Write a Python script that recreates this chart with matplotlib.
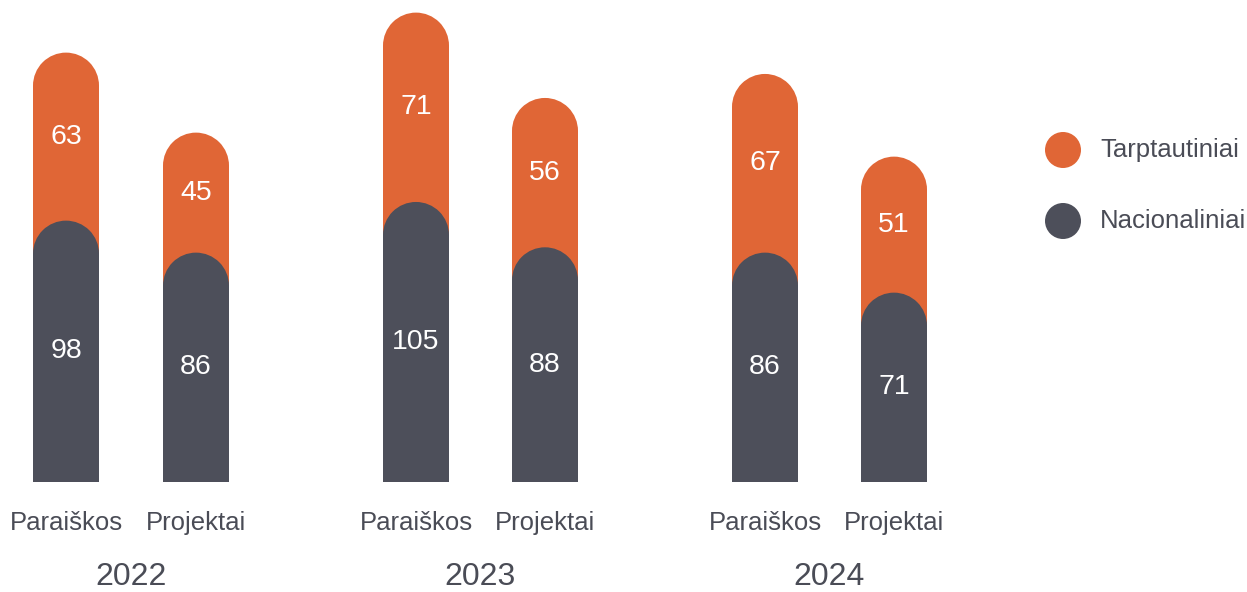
import matplotlib
matplotlib.use("Agg")
import matplotlib.pyplot as plt
from matplotlib.path import Path
from matplotlib.patches import PathPatch, Circle
import numpy as np

years = ["2022", "2023", "2024"]
categories = ["Paraiškos", "Projektai"]
nacionaliniai = [98, 86, 105, 88, 86, 71]
tarptautiniai = [63, 45, 71, 56, 67, 51]
series_names = ["Tarptautiniai", "Nacionaliniai"]

ORANGE = "#E06636"
DARK = "#4D4F5A"
TEXT = "#4A4C56"

plt.rcParams['font.family'] = ['Liberation Sans', 'DejaVu Sans']

W, H = 1247, 592
fig = plt.figure(figsize=(W / 100, H / 100), dpi=100)
ax = fig.add_axes([0, 0, 1, 1])
pxu = 2.667  # pixels per data unit
ax.set_xlim(0, W / pxu)
ax.set_ylim(-(H - 482) / pxu, 482 / pxu)
ax.axis('off')

bar_px_centers = [66, 196, 416, 545, 765, 894]
xs = [p / pxu for p in bar_px_centers]
r = 33 / pxu


def rounded_bar(x, h, color):
    arc = Path.arc(0, 180)
    verts = [(x - r, 0), (x + r, 0), (x + r, h - r)]
    codes = [Path.MOVETO, Path.LINETO, Path.LINETO]
    av = arc.vertices * r + np.array([x, h - r])
    verts += [tuple(v) for v in av[1:]]
    codes += list(arc.codes[1:])
    verts += [(x - r, 0)]
    codes += [Path.CLOSEPOLY]
    ax.add_patch(PathPatch(Path(verts, codes), facecolor=color, edgecolor='none'))


for i, x in enumerate(xs):
    n = nacionaliniai[i]
    t = tarptautiniai[i]
    rounded_bar(x, n + t, ORANGE)
    rounded_bar(x, n, DARK)
    ax.text(x, n + t / 2, str(t), ha='center', va='center', color='white', fontsize=20.5)
    ax.text(x, n / 2, str(n), ha='center', va='center', color='white', fontsize=20.5)
    ax.text(x, -41 / pxu, categories[i % 2], ha='center', va='center', color=TEXT, fontsize=18.5)

for g, y in enumerate(years):
    xc = (xs[2 * g] + xs[2 * g + 1]) / 2
    ax.text(xc, -95 / pxu, y, ha='center', va='center', color=TEXT, fontsize=23)

# legend
leg_colors = [ORANGE, DARK]
leg_y_px = [150, 221]
for name, c, ypx in zip(series_names, leg_colors, leg_y_px):
    yy = (482 - ypx) / pxu
    ax.add_patch(Circle((1063 / pxu, yy), 18 / pxu, facecolor=c, edgecolor='none'))
    ax.text(1100 / pxu, yy, name, ha='left', va='center', color=TEXT, fontsize=18.5)

fig.savefig("out.png", dpi=100)
